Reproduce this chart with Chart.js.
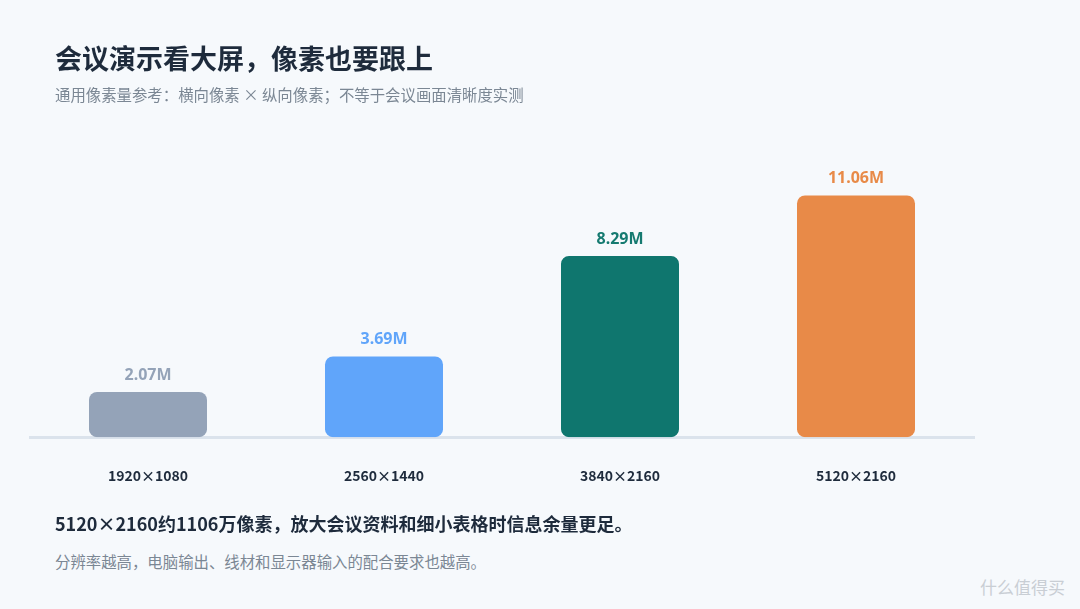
<!DOCTYPE html>
<html><head><meta charset="utf-8">
<script src="https://cdn.jsdelivr.net/npm/chart.js@4"></script>
<style>
body{margin:0;background:#f6f9fc;font-family:"Noto Sans CJK SC","Noto Sans",sans-serif;}
#wrap{position:relative;width:1080px;height:609px;overflow:hidden;}
canvas{position:absolute;left:0;top:0;}
.t{position:absolute;white-space:nowrap;}
</style></head><body>
<div id="wrap">
<canvas id="bar-chart" width="1080" height="530"></canvas>
<div class="t" style="left:55px;top:38px;font-size:27px;font-weight:700;color:#1e2b3c">会议演示看大屏，像素也要跟上</div>
<div class="t" style="left:55px;top:83px;font-size:15.4px;color:#7b8794">通用像素量参考：横向像素 × 纵向像素；不等于会议画面清晰度实测</div>
<div class="t" style="left:55px;top:510px;font-size:18px;font-weight:700;color:#1e2b3c">5120×2160约1106万像素，放大会议资料和细小表格时信息余量更足。</div>
<div class="t" style="left:55px;top:550px;font-size:15.4px;color:#7b8794">分辨率越高，电脑输出、线材和显示器输入的配合要求也越高。</div>
<div class="t" style="left:980px;top:574px;font-size:17px;color:#c9ced4">什么值得买</div>
</div>
<script>
const labels = ['1920×1080', '2560×1440', '3840×2160', '5120×2160'];
const pixels = [2.07, 3.69, 8.29, 11.06];
const colors = ['#94a3b8', '#60a5fa', '#0f766e', '#e88a48'];
const labelColors = ['#94a3b8', '#60a5fa', '#157a70', '#e88a48'];

const valueLabels = {
    id: 'valueLabels',
    afterDatasetsDraw(chart) {
        const ctx = chart.ctx;
        const meta = chart.getDatasetMeta(0);
        ctx.save();
        ctx.font = '700 16px "Noto Sans","Noto Sans CJK SC",sans-serif';
        ctx.textAlign = 'center';
        ctx.textBaseline = 'bottom';
        meta.data.forEach((bar, i) => {
            ctx.fillStyle = labelColors[i];
            ctx.fillText(pixels[i].toFixed(2) + 'M', bar.x, bar.y - 9);
        });
        ctx.restore();
    }
};

new Chart('bar-chart', {
    type: 'bar',
    data: {
        labels: labels,
        datasets: [{
            data: pixels,
            backgroundColor: colors,
            borderRadius: 8,
            borderSkipped: false,
            barPercentage: 0.5,
            categoryPercentage: 1
        }]
    },
    options: {
        responsive: false,
        animation: false,
        layout: {padding: {left: 30, right: 106, top: 153, bottom: 16}},
        plugins: {legend: {display: false}, tooltip: {enabled: false}},
        scales: {
            x: {
                grid: {display: false, drawTicks: false},
                border: {display: true, color: '#dbe3ec', width: 3},
                ticks: {padding: 30, color: '#1e2b3c', font: {size: 14, weight: '700', family: '"Noto Sans CJK SC","Noto Sans",sans-serif'}}
            },
            y: {display: false, min: 0, max: 13}
        }
    },
    plugins: [valueLabels]
});
</script>
</body></html>
